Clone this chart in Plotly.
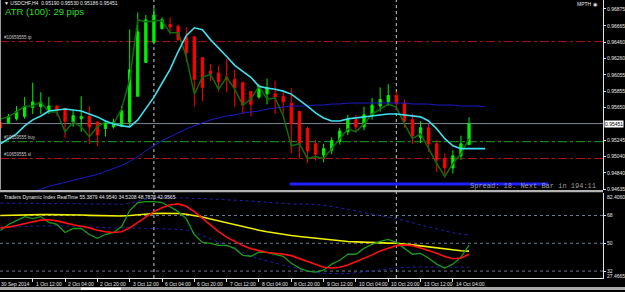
import plotly.graph_objects as go

# ---------------- data ----------------
bars = list(range(59))
opens = [0.9547, 0.9546, 0.9551, 0.9554, 0.9565, 0.9566, 0.9561, 0.9567, 0.9564, 0.9547,
         0.9551, 0.9554, 0.9547, 0.9539, 0.9541, 0.9542, 0.9547, 0.9579, 0.9621, 0.9646,
         0.9663, 0.9668, 0.9666, 0.9653, 0.9653, 0.9627, 0.9610, 0.9608, 0.9603, 0.9600,
         0.9596, 0.9585, 0.9578, 0.9582, 0.9582, 0.9579, 0.9570, 0.9560, 0.9539, 0.9520,
         0.9506, 0.9512, 0.9523, 0.9535, 0.9550, 0.9541, 0.9555, 0.9567, 0.9572, 0.9580,
         0.9570, 0.9550, 0.9528, 0.9540, 0.9520, 0.9502, 0.9490, 0.9505, 0.95190]
highs = [0.9548, 0.9557, 0.9567, 0.9578, 0.9596, 0.9584, 0.9578, 0.9567, 0.9564, 0.9561,
         0.9579, 0.9567, 0.9548, 0.9549, 0.9551, 0.9567, 0.9662, 0.9683, 0.9680, 0.9689,
         0.9677, 0.9677, 0.9668, 0.9665, 0.9653, 0.9627, 0.9619, 0.9617, 0.9625, 0.9612,
         0.9596, 0.9585, 0.9594, 0.9601, 0.9598, 0.9584, 0.9589, 0.9561, 0.9541, 0.9525,
         0.9520, 0.9528, 0.9540, 0.9556, 0.9556, 0.9566, 0.9577, 0.9590, 0.9594, 0.9585,
         0.9575, 0.9557, 0.9548, 0.9545, 0.9525, 0.9508, 0.9512, 0.9530, 0.95530]
lows = [0.9538, 0.9545, 0.9549, 0.9551, 0.9557, 0.9557, 0.9557, 0.9554, 0.9527, 0.9541,
        0.9535, 0.9520, 0.9517, 0.9529, 0.9539, 0.9541, 0.9541, 0.9579, 0.9621, 0.9645,
        0.9662, 0.9656, 0.9649, 0.9622, 0.9566, 0.9573, 0.9598, 0.9585, 0.9584, 0.9566,
        0.9557, 0.9554, 0.9576, 0.9569, 0.9557, 0.9557, 0.9508, 0.9502, 0.9496, 0.9499,
        0.9497, 0.9507, 0.9519, 0.9531, 0.9535, 0.9537, 0.9550, 0.9560, 0.9567, 0.9562,
        0.9540, 0.9520, 0.9521, 0.9510, 0.9485, 0.9478, 0.9483, 0.9500, 0.95186]
closes = [0.9540, 0.9554, 0.9560, 0.9566, 0.9572, 0.9572, 0.9567, 0.9561, 0.9548, 0.9555,
          0.9554, 0.9541, 0.9531, 0.9547, 0.9547, 0.9561, 0.9612, 0.9659, 0.9674, 0.9680,
          0.9674, 0.9665, 0.9649, 0.9633, 0.9600, 0.9590, 0.9607, 0.9597, 0.9600, 0.9590,
          0.9568, 0.9569, 0.9592, 0.9590, 0.9578, 0.9572, 0.9545, 0.9520, 0.9511, 0.9507,
          0.9514, 0.9524, 0.9536, 0.9550, 0.9541, 0.9556, 0.9568, 0.9575, 0.9580, 0.9570,
          0.9548, 0.9530, 0.9540, 0.9520, 0.9500, 0.9490, 0.9505, 0.9520, 0.95451]

zigzag = [0.95509, 0.95534, 0.95595, 0.95669, 0.95669, 0.95718, 0.95595, 0.95595, 0.95349, 0.95472,
          0.95410, 0.95287, 0.95410, 0.95472, 0.95447, 0.95632, 0.96001, 0.96740, 0.96715, 0.96727,
          0.96727, 0.96580, 0.96580, 0.96284, 0.95817, 0.96026, 0.96063, 0.95878, 0.96026, 0.95878,
          0.95681, 0.95755, 0.95915, 0.95755, 0.95768, 0.95546, 0.95176, 0.95201, 0.95017, 0.95041,
          0.95017, 0.95140, 0.95263, 0.95386, 0.95349, 0.95447, 0.95570, 0.95632, 0.95694, 0.95657,
          0.95447, 0.95263, 0.95324, 0.95140, 0.94955, 0.94795, 0.94955, 0.95078, 0.95263]

ma_bars = list(range(61))
ma_fast = [0.95201, 0.95263, 0.95324, 0.95423, 0.95497, 0.95546, 0.95607, 0.95620, 0.95632, 0.95620,
           0.95607, 0.95570, 0.95534, 0.95484, 0.95447, 0.95423, 0.95410, 0.95497, 0.95632, 0.95780,
           0.95952, 0.96124, 0.96346, 0.96543, 0.96641, 0.96617, 0.96494, 0.96395, 0.96284, 0.96174,
           0.96100, 0.96026, 0.95915, 0.95891, 0.95878, 0.95854, 0.95817, 0.95743, 0.95669, 0.95583,
           0.95521, 0.95484, 0.95484, 0.95509, 0.95521, 0.95534, 0.95546, 0.95558, 0.95570, 0.95570,
           0.95558, 0.95546, 0.95534, 0.95484, 0.95386, 0.95263, 0.95176, 0.95140, 0.95140, 0.95140,
           0.95140]
ma_slow = [None, None, None, None, 0.94610, 0.94635, 0.94672, 0.94697, 0.94721, 0.94746,
           0.94770, 0.94795, 0.94820, 0.94857, 0.94894, 0.94931, 0.94980, 0.95041, 0.95115, 0.95176,
           0.95238, 0.95287, 0.95337, 0.95386, 0.95423, 0.95460, 0.95497, 0.95521, 0.95546, 0.95558,
           0.95583, 0.95595, 0.95607, 0.95632, 0.95644, 0.95657, 0.95669, 0.95669, 0.95669, 0.95681,
           0.95681, 0.95694, 0.95694, 0.95706, 0.95706, 0.95706, 0.95706, 0.95706, 0.95706, 0.95706,
           0.95706, 0.95694, 0.95694, 0.95694, 0.95681, 0.95681, 0.95681, 0.95669, 0.95669, 0.95669,
           0.95657]

tdi_rsi = [58.3, 62.2, 64.7, 67.3, 66.0, 67.3, 63.5, 62.2, 57.0, 59.6,
           59.6, 55.7, 53.2, 55.7, 57.0, 60.9, 71.2, 76.3, 77.0, 77.0,
           76.3, 73.7, 70.5, 66.0, 55.7, 50.6, 50.0, 48.7, 48.7, 46.7,
           42.2, 41.6, 44.2, 44.2, 42.9, 41.6, 37.1, 33.9, 32.0, 31.3,
           32.6, 36.5, 39.0, 42.9, 42.9, 46.7, 49.3, 51.2, 52.5, 50.6,
           46.7, 42.9, 43.5, 40.3, 36.5, 33.9, 36.5, 41.0, 48.7875]
tdi_signal = [60.0, 60.5, 61.5, 63.0, 64.0, 65.0, 65.2, 64.5, 63.0, 62.0,
              61.0, 60.0, 58.5, 57.5, 57.0, 57.5, 60.0, 63.5, 67.0, 70.5,
              73.0, 75.0, 75.5, 74.0, 70.5, 66.0, 61.5, 57.5, 54.0, 51.0,
              48.5, 46.5, 45.0, 44.0, 43.5, 43.0, 42.0, 40.0, 38.0, 36.0,
              34.5, 34.0, 34.5, 36.0, 38.0, 40.0, 42.5, 45.0, 47.0, 48.5,
              49.0, 48.5, 47.0, 45.5, 43.5, 41.5, 40.0, 40.5, 42.9565]
tdi_base = [68.0, 68.2, 68.3, 68.4, 68.5, 68.6, 68.6, 68.6, 68.5, 68.4,
            68.3, 68.1, 67.9, 67.7, 67.6, 67.7, 68.0, 68.5, 69.0, 69.3,
            69.5, 69.5, 69.3, 68.8, 68.0, 67.0, 65.8, 64.5, 63.2, 62.0,
            60.8, 59.6, 58.5, 57.5, 56.6, 55.8, 55.0, 54.4, 53.8, 53.2,
            52.6, 52.1, 51.6, 51.2, 50.9, 50.6, 50.4, 50.2, 50.1, 50.0,
            49.6, 49.0, 48.3, 47.6, 46.9, 46.2, 45.6, 45.2, 44.9540]
tdi_upper = [76.0, 76.0, 75.9, 75.9, 75.9, 75.9, 75.8, 75.8, 75.8, 75.7,
             75.6, 75.5, 75.5, 75.4, 75.3, 75.3, 76.0, 77.3, 78.5, 79.3,
             79.8, 79.8, 79.5, 79.0, 79.0, 79.0, 78.8, 78.5, 78.2, 78.0,
             77.8, 77.4, 77.0, 76.5, 76.1, 75.8, 75.5, 75.4, 75.3, 75.2,
             74.6, 73.9, 73.0, 72.0, 70.9, 69.8, 68.8, 67.8, 66.9, 66.0,
             64.8, 63.4, 61.9, 60.5, 59.2, 58.0, 56.8, 56.0, 55.3879]
tdi_lower = [60.0, 60.4, 60.7, 60.9, 61.1, 61.3, 61.4, 61.4, 61.2, 61.1,
             61.0, 60.7, 60.3, 60.0, 59.9, 60.1, 60.0, 59.7, 59.5, 59.3,
             59.2, 59.2, 59.1, 58.6, 57.0, 55.0, 52.8, 50.5, 48.2, 46.0,
             43.8, 41.8, 40.0, 38.5, 37.1, 35.8, 34.5, 33.4, 32.3, 31.2,
             30.6, 30.3, 30.2, 30.4, 30.9, 31.4, 32.0, 32.6, 33.3, 34.0,
             34.4, 34.6, 34.7, 34.7, 34.6, 34.4, 34.4, 34.4, 34.5208]
tdi_levels = [68, 50, 32]

price_ticks = [0.96875, 0.96665, 0.96460, 0.96260, 0.96055, 0.95855, 0.95650,
               0.95245, 0.95040, 0.94840, 0.94635]
price_ticktext = ["0.96875", "0.96665", "0.96460", "0.96260", "0.96055", "0.95855", "0.95650",
                  "0.95245", "0.95040", "0.94840", "0.94635"]
bid = 0.95451
order_levels = [0.96469, 0.95226, 0.95017]
order_labels = ["#10659555 tp", "#10659555 buy", "#10659555 sl"]
order_colors = ["#b01414", "#1e9e1e", "#b01414"]
support_x = [35.8, 67.8]
support_y = 0.94700
separators = [19, 49]

time_ticks = [0, 4, 8, 12, 16, 20, 24, 28, 32, 36, 40, 44, 48, 52]
time_labels = ["30 Sep 2014", "1 Oct 12:00", "2 Oct 04:00", "2 Oct 20:00", "3 Oct 12:00",
               "6 Oct 04:00", "6 Oct 20:00", "7 Oct 12:00", "8 Oct 04:00", "8 Oct 20:00",
               "9 Oct 12:00", "10 Oct 04:00", "10 Oct 20:00", "13 Oct 12:00"]
time_labels = time_labels[:1] + ["1 Oct 12:00", "2 Oct 04:00", "2 Oct 20:00", "3 Oct 12:00",
                                 "6 Oct 04:00", "6 Oct 20:00", "7 Oct 12:00", "8 Oct 04:00",
                                 "8 Oct 20:00", "9 Oct 12:00", "10 Oct 04:00", "10 Oct 20:00",
                                 "13 Oct 12:00", "14 Oct 04:00"][:13]
time_ticks_all = [0, 4, 8, 12, 16, 20, 24, 28, 32, 36, 40, 44, 48, 52, 56]
time_labels_all = ["30 Sep 2014", "1 Oct 12:00", "2 Oct 04:00", "2 Oct 20:00", "3 Oct 12:00",
                   "6 Oct 04:00", "6 Oct 20:00", "7 Oct 12:00", "8 Oct 04:00", "8 Oct 20:00",
                   "9 Oct 12:00", "10 Oct 04:00", "10 Oct 20:00", "13 Oct 12:00", "14 Oct 04:00"]

# ---------------- geometry (pixels) ----------------
W, H = 625, 292
PR = 603
def fx(px): return px / W
def fy(py): return 1 - py / H

fig = go.Figure()

fig.add_trace(go.Scatter(x=ma_bars, y=ma_slow, mode="lines",
                         line=dict(color="#1a1acc", width=1), xaxis="x", yaxis="y", hoverinfo="skip"))
fig.add_trace(go.Candlestick(x=bars, open=opens, high=highs, low=lows, close=closes,
                             increasing=dict(line=dict(color="#00f000", width=1), fillcolor="#00f000"),
                             decreasing=dict(line=dict(color="#ff0000", width=1), fillcolor="#ff0000"),
                             whiskerwidth=0, xaxis="x", yaxis="y", hoverinfo="skip"))
fig.add_trace(go.Scatter(x=bars, y=zigzag, mode="lines",
                         line=dict(color="#0b6e0b", width=1.5), xaxis="x", yaxis="y", hoverinfo="skip"))
fig.add_trace(go.Scatter(x=ma_bars, y=ma_fast, mode="lines",
                         line=dict(color="#3ee0f0", width=1.6), xaxis="x", yaxis="y", hoverinfo="skip"))

# TDI
for arr in (tdi_upper, tdi_lower):
    fig.add_trace(go.Scatter(x=bars, y=arr, mode="lines", line=dict(color="#2020b0", width=1, dash="dot"),
                             xaxis="x2", yaxis="y2", hoverinfo="skip"))
fig.add_trace(go.Scatter(x=bars, y=tdi_base, mode="lines", line=dict(color="#f0f000", width=1.6),
                         xaxis="x2", yaxis="y2", hoverinfo="skip"))
fig.add_trace(go.Scatter(x=bars, y=tdi_rsi, mode="lines", line=dict(color="#1c9a1c", width=1.3),
                         xaxis="x2", yaxis="y2", hoverinfo="skip"))
fig.add_trace(go.Scatter(x=bars, y=tdi_signal, mode="lines", line=dict(color="#ff1010", width=1.6),
                         xaxis="x2", yaxis="y2", hoverinfo="skip"))

shapes = []
# order lines
for lv, col in zip(order_levels, order_colors):
    shapes.append(dict(type="line", xref="x domain", x0=0, x1=1, yref="y", y0=lv, y1=lv,
                       line=dict(color=col, width=1, dash="dashdot"), layer="below"))
# bid line
shapes.append(dict(type="line", xref="x domain", x0=0, x1=1, yref="y", y0=bid, y1=bid,
                   line=dict(color="#7c8696", width=1), layer="below"))
# support line
shapes.append(dict(type="line", xref="x", x0=support_x[0], x1=support_x[1], yref="y",
                   y0=support_y, y1=support_y, line=dict(color="#1f1fff", width=3)))
# tdi levels
for lv in tdi_levels:
    shapes.append(dict(type="line", xref="x2 domain", x0=0, x1=1, yref="y2", y0=lv, y1=lv,
                       line=dict(color="#6a7890", width=1, dash="dot"), layer="below"))
# period separators
for s in separators:
    shapes.append(dict(type="line", xref="x", x0=s, x1=s, yref="paper", y0=fy(280), y1=1,
                       line=dict(color="#d0d0d0", width=1, dash="dot"), layer="below"))
# window separator band
shapes.append(dict(type="rect", xref="paper", yref="paper", x0=0, x1=fx(PR), y0=fy(193.5), y1=fy(191.3),
                   fillcolor="#b4b4b4", line=dict(width=0)))
# left border
shapes.append(dict(type="line", xref="paper", yref="paper", x0=fx(0.5), x1=fx(0.5), y0=fy(191), y1=1,
                   line=dict(color="#9a9a9a", width=1)))
# bottom window frame
shapes.append(dict(type="rect", xref="paper", yref="paper", x0=0, x1=1, y0=0, y1=fy(289),
                   fillcolor="#a9a9a9", line=dict(width=0)))
shapes.append(dict(type="rect", xref="paper", yref="paper", x0=fx(81), x1=fx(121), y0=0, y1=fy(289.5),
                   fillcolor="#ffffff", line=dict(width=0)))

ann = []
small = dict(family="Liberation Sans, Arial", size=5, color="#e8e8e8")
ann.append(dict(xref="paper", yref="paper", x=fx(2), y=fy(3.5), xanchor="left", yanchor="middle",
                text="▼ USDCHF,H4  0.95190 0.95530 0.95186 0.95451", showarrow=False, font=small))
ann.append(dict(xref="paper", yref="paper", x=fx(3), y=fy(11.5), xanchor="left", yanchor="middle",
                text="ATR (100): 29 pips", showarrow=False,
                font=dict(family="Liberation Sans, Arial", size=9.5, color="#2edc2e")))
ann.append(dict(xref="paper", yref="paper", x=fx(600), y=fy(4), xanchor="right", yanchor="middle",
                text="MPTH ◉", showarrow=False, font=small))
for lv, lab in zip(order_levels, order_labels):
    ann.append(dict(xref="paper", yref="y", x=fx(2), y=lv, xanchor="left", yanchor="bottom",
                    yshift=0, text=lab, showarrow=False, font=dict(family="Liberation Sans, Arial", size=4.5, color="#c8c8c8")))
ann.append(dict(xref="paper", yref="paper", x=fx(598), y=fy(187.5), xanchor="right", yanchor="middle",
                text="Spread: 18. Next Bar in 194:11", showarrow=False,
                font=dict(family="Liberation Mono, Courier New", size=7, color="#9c9c9c")))
ann.append(dict(xref="paper", yref="y", x=fx(604), y=bid, xanchor="left", yanchor="middle",
                text="0.95451", showarrow=False, bgcolor="#ffffff", borderpad=0,
                font=dict(family="Liberation Sans, Arial", size=5, color="#000000")))
ann.append(dict(xref="paper", yref="paper", x=fx(2), y=fy(198.5), xanchor="left", yanchor="middle",
                text="Traders Dynamic Index RealTime 55.3879 44.9540 34.5208 48.7875 42.9565",
                showarrow=False, font=small))
ann.append(dict(xref="paper", yref="paper", x=fx(605), y=fy(198), xanchor="left", yanchor="middle",
                text="82.4060", showarrow=False, font=small))
ann.append(dict(xref="paper", yref="paper", x=fx(605), y=fy(278), xanchor="left", yanchor="middle",
                text="27.4665", showarrow=False, font=small))
for t, lab in zip(time_ticks_all, time_labels_all):
    ann.append(dict(xref="x2", yref="paper", x=t, y=fy(286), xanchor="left", yanchor="middle",
                    xshift=1 if t else -1, text=lab, showarrow=False, font=small))

fig.update_layout(
    width=W, height=H, margin=dict(l=0, r=0, t=0, b=0),
    paper_bgcolor="#000000", plot_bgcolor="#000000", showlegend=False,
    boxgap=0.72, boxgroupgap=0,
    shapes=shapes, annotations=ann,
    xaxis=dict(domain=[0, fx(PR)], range=[-0.05, 74.58], anchor="y", showticklabels=False,
               showgrid=False, zeroline=False, rangeslider=dict(visible=False), fixedrange=True),
    yaxis=dict(domain=[fy(191), 1], range=[0.94630, 0.969858], anchor="x", side="right",
               tickvals=price_ticks, ticktext=price_ticktext, tickfont=small,
               ticks="outside", ticklen=2, tickcolor="#e0e0e0", showline=True, linecolor="#e0e0e0",
               showgrid=False, zeroline=False),
    xaxis2=dict(domain=[0, fx(PR)], matches="x", anchor="y2", showticklabels=False,
                tickvals=time_ticks_all[1:], ticks="outside", ticklen=3, tickcolor="#e0e0e0",
                showline=True, linecolor="#e0e0e0", showgrid=False, zeroline=False,
                rangeslider=dict(visible=False)),
    yaxis2=dict(domain=[fy(280), fy(194.6)], range=[27.4665, 82.406], anchor="x2", side="right",
                tickvals=tdi_levels, ticktext=[str(v) for v in tdi_levels], tickfont=small,
                ticks="outside", ticklen=2, tickcolor="#e0e0e0", showline=True, linecolor="#e0e0e0",
                showgrid=False, zeroline=False),
)

fig.write_html("out.html")
